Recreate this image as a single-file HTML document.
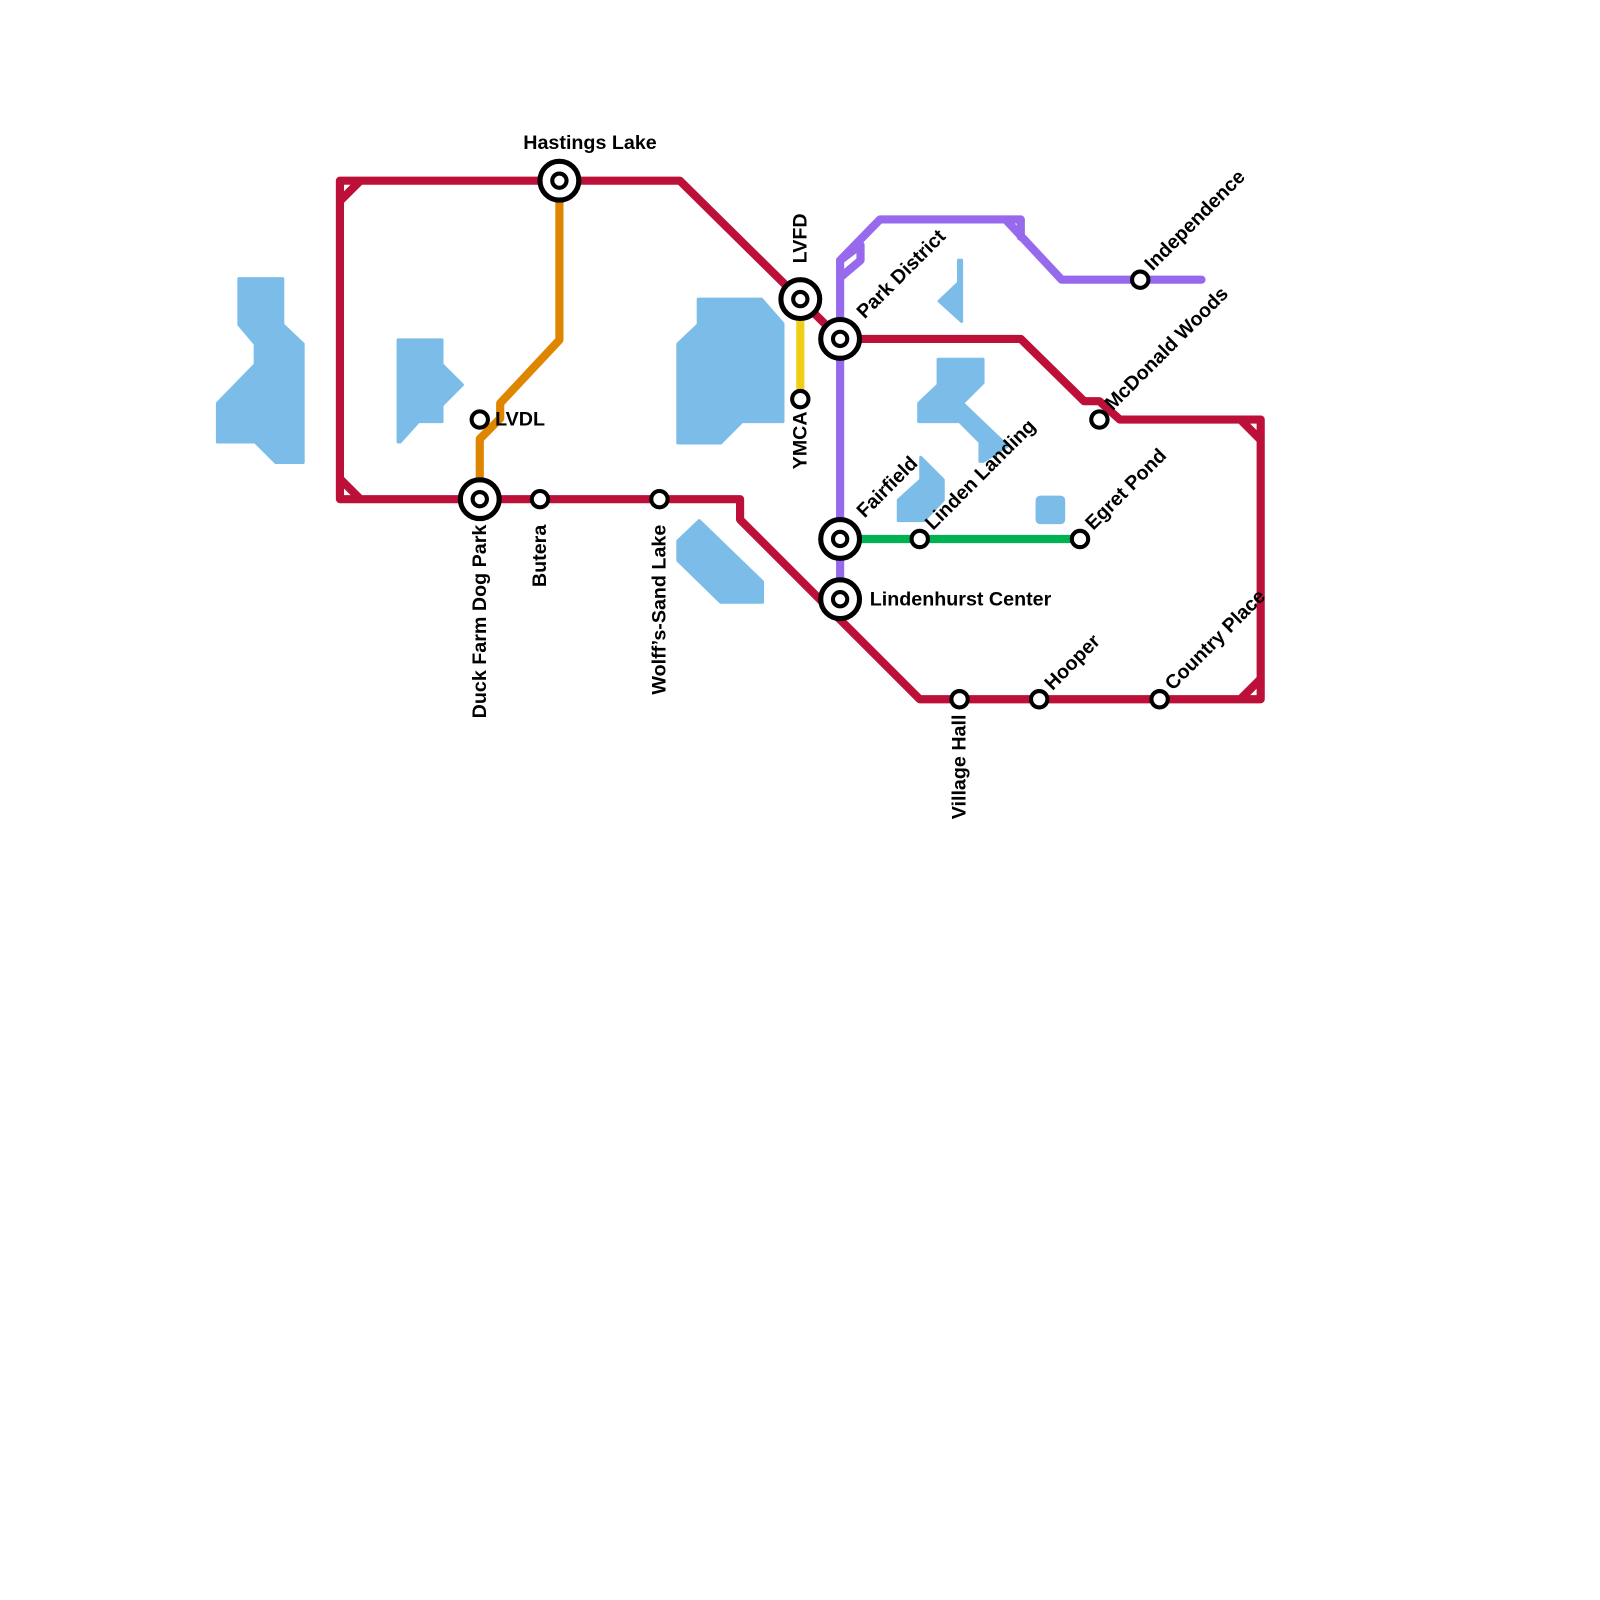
<!DOCTYPE html>
<html><head><style>body{margin:0;background:#fff}svg{display:block}text{font-family:"Liberation Sans",sans-serif;font-weight:bold;font-size:19.3px;fill:#000}</style></head><body>
<svg width="1600" height="1600" viewBox="0 0 1600 1600">
<g transform="scale(1.0208)">
<g fill="#7bbde8" stroke="#7bbde8" stroke-width="3" stroke-linejoin="round">
<polygon points="234,273 277,273 277,318 297,337 297,453 270,453 250,433 213,433 213,395 250,357 250,337 234,318"/>
<polygon points="390,333 433,333 433,357 453,377 433,397 433,413 410,413 392,433 390,433"/>
<polygon points="684,293 746,293 767,317 767,413 727,413 706,434 664,434 664,337 684,318"/>
<polygon points="685,510 747,570 747,590 706,590 664,549 664,530"/>
<polygon points="919,352 963,352 963,375 943,395 987,437 963,452 960,452 960,433 940,413 900,413 900,395 919,377"/>
<polygon points="939,255 942,255 942,315 920,295 939,277"/>
<polygon points="902,448 924,470 924,490 905,510 880,510 880,490 902,470"/>
<rect x="1016" y="487" width="26" height="25" rx="3"/>
</g>
<g fill="none" stroke-linejoin="round" stroke-linecap="round" stroke-width="8">
<path d="M470,489 L470,430 L490,410 L490,395 L548,333 L548,177" stroke="#df8600"/>
<path d="M784,293 L784,391" stroke="#f0ce15"/>
<path d="M823,528 L1058,528" stroke="#00b251"/>
<path d="M823,587 L823,255 L843,240 L843,255 L823,272 M823,255 L862,215 L1000,215 L1000,232 M985,215 L1040,274 L1177,274" stroke="#9769ec"/>
<path d="M333,177 L666,177 L823,332 L1000,332 L1062,393 L1077,393 L1097,411 L1235,411 L1235,685 L901,685 L725,509 L725,489 L333,489 Z M333,197 L353,177 M333,469 L353,489 M1215,411 L1235,431 M1215,685 L1235,665" stroke="#bd1038"/>
</g>
<g fill="#fff" stroke="#000">
<g stroke-width="5">
<circle cx="548" cy="177" r="19"/><circle cx="470" cy="489" r="19"/><circle cx="784" cy="293" r="19"/><circle cx="823" cy="332" r="19"/><circle cx="823" cy="528" r="19"/><circle cx="823" cy="587" r="19"/>
</g>
<g stroke-width="4">
<circle cx="548" cy="177" r="7"/><circle cx="470" cy="489" r="7"/><circle cx="784" cy="293" r="7"/><circle cx="823" cy="332" r="7"/><circle cx="823" cy="528" r="7"/><circle cx="823" cy="587" r="7"/>
<circle cx="470" cy="411" r="8"/><circle cx="529" cy="489" r="8"/><circle cx="646" cy="489" r="8"/><circle cx="784" cy="391" r="8"/><circle cx="901" cy="528" r="8"/><circle cx="1058" cy="528" r="8"/><circle cx="1117" cy="274" r="8"/><circle cx="1077" cy="411" r="8"/><circle cx="940" cy="685" r="8"/><circle cx="1018" cy="685" r="8"/><circle cx="1136" cy="685" r="8"/>
</g>
</g>
<text x="578" y="146" text-anchor="middle">Hastings Lake</text>
<text x="485" y="417">LVDL</text>
<text x="852" y="593">Lindenhurst Center</text>
<text transform="translate(476,514) rotate(-90)" text-anchor="end">Duck Farm Dog Park</text>
<text transform="translate(535,514) rotate(-90)" text-anchor="end">Butera</text>
<text transform="translate(652,514) rotate(-90)" text-anchor="end">Wolff’s-Sand Lake</text>
<text transform="translate(790,403) rotate(-90)" text-anchor="end">YMCA</text>
<text transform="translate(946,700) rotate(-90)" text-anchor="end">Village Hall</text>
<text transform="translate(790,258) rotate(-90)">LVFD</text>
<text transform="translate(847,313) rotate(-45)">Park District</text>
<text transform="translate(847,508) rotate(-45)">Fairfield</text>
<text transform="translate(914,520) rotate(-45)">Linden Landing</text>
<text transform="translate(1071,520) rotate(-45)">Egret Pond</text>
<text transform="translate(1129,266) rotate(-45)">Independence</text>
<text transform="translate(1090,403) rotate(-45)">McDonald Woods</text>
<text transform="translate(1031,677) rotate(-45)">Hooper</text>
<text transform="translate(1149,677) rotate(-45)">Country Place</text>
</g>
</svg>
</body></html>
